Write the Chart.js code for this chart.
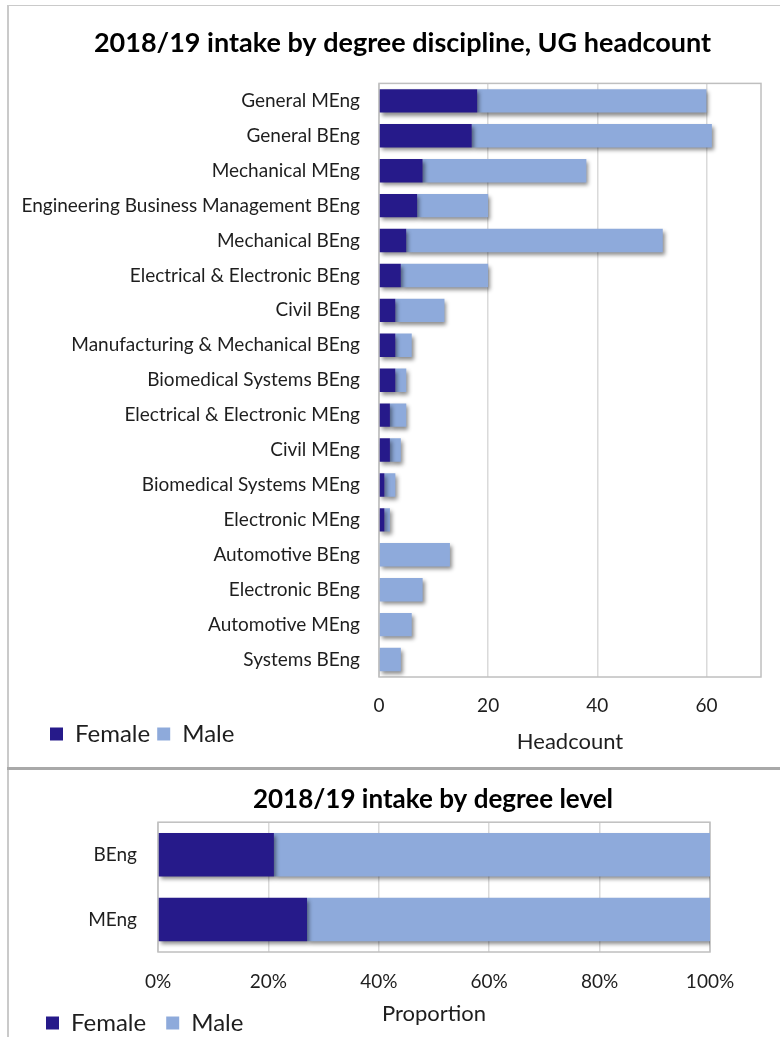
<!DOCTYPE html>
<html>
<head>
<meta charset="utf-8">
<script src="https://cdn.jsdelivr.net/npm/chart.js@4.4.1/dist/chart.umd.min.js"></script>
<style>
html,body{margin:0;padding:0;background:#fff;}
#wrap{position:relative;width:780px;height:1037px;overflow:hidden;background:#fff;}
#c1box{position:absolute;left:0;top:0;width:780px;height:769px;}
#c2box{position:absolute;left:0;top:769px;width:780px;height:268px;}
.frameL{position:absolute;left:7px;top:5px;width:2px;height:1032px;background:#cacaca;}
.frameT{position:absolute;left:7px;top:5px;width:773px;height:1px;background:#cacaca;}
.sep{position:absolute;left:7px;top:767px;width:773px;height:3px;background:#a9a9a9;}
</style>
</head>
<body>
<div id="wrap">
  <div id="c1box"><canvas id="c1" width="780" height="769"></canvas></div>
  <div id="c2box"><canvas id="c2" width="780" height="268"></canvas></div>
  <div class="frameL"></div>
  <div class="frameT"></div>
  <div class="sep"></div>
</div>
<script>
// ---------- data ----------
const disciplines = [
  'General MEng', 'General BEng', 'Mechanical MEng', 'Engineering Business Management BEng',
  'Mechanical BEng', 'Electrical & Electronic BEng', 'Civil BEng', 'Manufacturing & Mechanical BEng',
  'Biomedical Systems BEng', 'Electrical & Electronic MEng', 'Civil MEng', 'Biomedical Systems MEng',
  'Electronic MEng', 'Automotive BEng', 'Electronic BEng', 'Automotive MEng', 'Systems BEng'
];
const femaleHeadcount = [18, 17, 8, 7, 5, 4, 3, 3, 3, 2, 2, 1, 1, 0, 0, 0, 0];
const maleHeadcount   = [42, 44, 30, 13, 47, 16, 9, 3, 2, 3, 2, 2, 1, 13, 8, 6, 4];
const headcountTicks = [0, 20, 40, 60];

const levels = ['BEng', 'MEng'];
const femaleShare = [21, 27];
const maleShare   = [79, 73];
const shareTicks = [0, 20, 40, 60, 80, 100];

const seriesNames = ['Female', 'Male'];

// ---------- styles ----------
const FONT = 'Lato, "Open Sans", sans-serif';
const FEMALE_COLOR = '#261a8a';
const MALE_COLOR = '#8eaadb';
const TEXT = '#1e1e1e';

// ---------- plugins ----------
const plotBox = {
  id: 'plotBox',
  beforeDatasetsDraw(chart) {
    const {ctx, chartArea: a} = chart;
    ctx.save();
    ctx.strokeStyle = '#bfbfbf';
    ctx.lineWidth = 1.5;
    ctx.strokeRect(a.left, a.top, a.right - a.left, a.bottom - a.top);
    ctx.restore();
  }
};
const barShadow = {
  id: 'barShadow',
  beforeDatasetsDraw(chart) {
    const ctx = chart.ctx;
    ctx.save();
    ctx.shadowColor = 'rgba(0,0,0,0.45)';
    ctx.shadowBlur = 4;
    ctx.shadowOffsetX = 2;
    ctx.shadowOffsetY = 3;
  },
  afterDatasetsDraw(chart) { chart.ctx.restore(); }
};
const placer = {
  id: 'placer',
  afterLayout(chart, args, opts) {
    const t = chart.titleBlock;
    if (t && opts.titleDx) { t.left += opts.titleDx; t.right += opts.titleDx; }
    const l = chart.legend;
    if (l && opts.legend) {
      const o = opts.legend;
      l.left = o.x; l.right = o.x + o.w; l.width = o.w;
      l.top = o.y; l.bottom = o.y + o.h; l.height = o.h;
    }
  }
};

function makeOptions(cfg) {
  return {
    indexAxis: 'y',
    responsive: false,
    animation: false,
    layout: {padding: cfg.padding},
    scales: {
      x: {
        stacked: true,
        min: 0,
        max: cfg.max,
        afterBuildTicks(scale) { scale.ticks = cfg.ticks.map(v => ({value: v})); },
        afterFit(scale) { scale.height = cfg.xHeight; },
        grid: {color: '#dadada', lineWidth: 1.5, drawTicks: false},
        border: {display: false},
        ticks: {
          padding: cfg.xTickPad,
          color: TEXT,
          font: {family: FONT, size: 19},
          callback: cfg.tickFmt
        },
        title: {
          display: true,
          text: cfg.xTitle,
          color: TEXT,
          font: {family: FONT, size: 22},
          padding: {top: 0, bottom: 0}
        }
      },
      y: {
        stacked: true,
        afterFit(scale) { scale.width = cfg.yWidth; },
        grid: {display: false, drawTicks: false},
        border: {display: false},
        ticks: {
          padding: cfg.yTickPad,
          color: TEXT,
          autoSkip: false,
          font: {family: FONT, size: 19}
        }
      }
    },
    plugins: {
      tooltip: {enabled: false},
      title: {
        display: true,
        text: cfg.title,
        color: '#000',
        font: {family: FONT, size: cfg.titleSize, weight: 'bold'},
        padding: cfg.titlePad
      },
      legend: {
        display: true,
        position: 'bottom',
        align: 'start',
        maxHeight: 1,
        labels: {
          boxWidth: 13,
          boxHeight: 13,
          padding: cfg.legendPad,
          color: TEXT,
          font: {family: FONT, size: 24}
        }
      },
      placer: {titleDx: cfg.titleDx, legend: cfg.legendBox}
    }
  };
}

function makeDatasets(f, m) {
  return [
    {label: seriesNames[0], data: f, backgroundColor: FEMALE_COLOR, borderWidth: 0,
     barPercentage: 0.67, categoryPercentage: 1},
    {label: seriesNames[1], data: m, backgroundColor: MALE_COLOR, borderWidth: 0,
     barPercentage: 0.67, categoryPercentage: 1}
  ];
}

new Chart(document.getElementById('c1'), {
  type: 'bar',
  data: {labels: disciplines, datasets: makeDatasets(femaleHeadcount, maleHeadcount)},
  options: makeOptions({
    padding: {left: 10, right: 19, top: 0, bottom: 13},
    max: 70,
    ticks: headcountTicks,
    xHeight: 78,
    xTickPad: 17,
    tickFmt: v => String(v),
    xTitle: 'Headcount',
    yWidth: 369,
    yTickPad: 19,
    title: '2018/19 intake by degree discipline, UG headcount',
    titleSize: 27,
    titlePad: {top: 27, bottom: 24},
    titleDx: 17,
    legendPad: 7,
    legendBox: {x: 43, y: 715, w: 360, h: 44}
  }),
  plugins: [plotBox, barShadow, placer]
});

new Chart(document.getElementById('c2'), {
  type: 'bar',
  data: {labels: levels, datasets: makeDatasets(femaleShare, maleShare)},
  options: makeOptions({
    padding: {left: 10, right: 70, top: 0, bottom: 9},
    max: 100,
    ticks: shareTicks,
    xHeight: 75,
    xTickPad: 18,
    tickFmt: v => v + '%',
    xTitle: 'Proportion',
    yWidth: 148,
    yTickPad: 21,
    title: '2018/19 intake by degree level',
    titleSize: 26,
    titlePad: {top: 15, bottom: 7},
    titleDx: 73,
    legendPad: 20,
    legendBox: {x: 26, y: 222, w: 360, h: 60}
  }),
  plugins: [plotBox, barShadow, placer]
});
</script>
</body>
</html>
